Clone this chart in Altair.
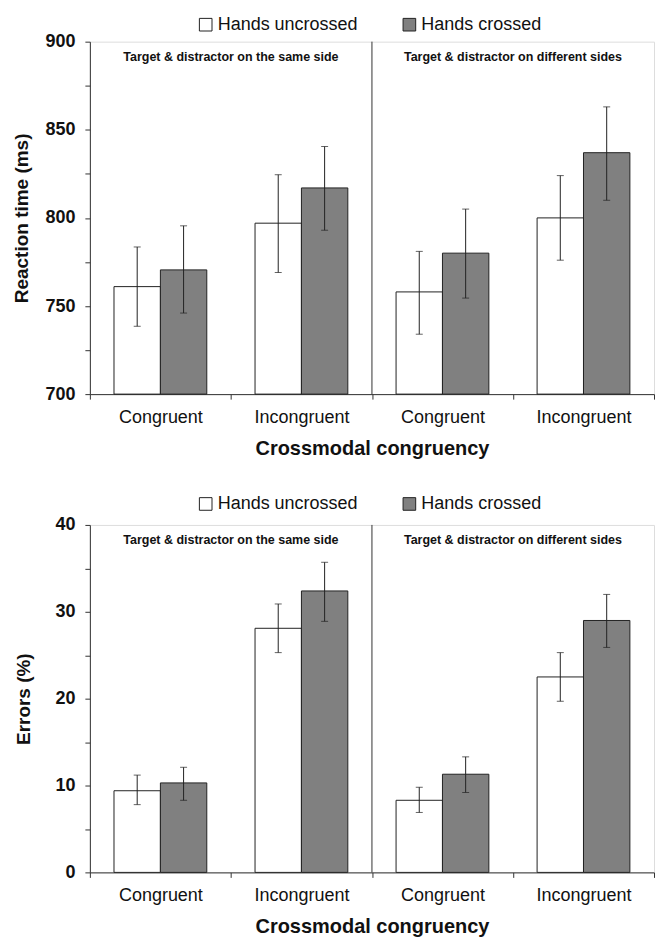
import altair as alt
import pandas as pd

# ---------------- data ----------------
categories = ["Congruent", "Incongruent", "Congruent", "Incongruent"]
sides = ["same", "same", "different", "different"]
conditions = ["Hands uncrossed", "Hands crossed"]
panel_titles = ["Target & distractor on the same side",
                "Target & distractor on different sides"]

rt_uncrossed = [761, 797, 758, 800]
rt_crossed = [770.5, 817, 780, 837]
rt_uncrossed_lo = [738.5, 769, 734, 776]
rt_uncrossed_hi = [783.5, 824.5, 781, 824]
rt_crossed_lo = [746, 793, 754.5, 810]
rt_crossed_hi = [795.5, 840.5, 805, 863]

err_uncrossed = [9.4, 28.1, 8.3, 22.5]
err_crossed = [10.3, 32.4, 11.3, 29.0]
err_uncrossed_lo = [7.8, 25.3, 6.9, 19.7]
err_uncrossed_hi = [11.2, 30.9, 9.8, 25.3]
err_crossed_lo = [8.3, 28.9, 9.2, 25.9]
err_crossed_hi = [12.1, 35.7, 13.3, 32.0]

keys = [f"{s}|{c}" for s, c in zip(sides, categories)]

FONT = "Liberation Sans, Arial, sans-serif"
LINE = "#333333"


def make_df(unc, cr, unc_lo, unc_hi, cr_lo, cr_hi):
    rows = []
    for i, k in enumerate(keys):
        rows.append({"key": k, "condition": conditions[0], "value": unc[i],
                     "lo": unc_lo[i], "hi": unc_hi[i]})
        rows.append({"key": k, "condition": conditions[1], "value": cr[i],
                     "lo": cr_lo[i], "hi": cr_hi[i]})
    return pd.DataFrame(rows)


def panel(df, ytitle, ydomain, ystep, label_every, height, legend_y, title_pad):
    W = 565
    xscale = alt.Scale(domain=keys, paddingInner=0, paddingOuter=0)
    xaxis = alt.Axis(title="Crossmodal congruency", tickBand="extent",
                     labelExpr="split(datum.label, '|')[1]",
                     labelAngle=0, labelFontSize=18, labelPadding=9,
                     labelFont=FONT, labelColor="#111",
                     titleFont=FONT, titleFontSize=20, titleFontWeight="bold",
                     titlePadding=12, titleColor="#111",
                     tickSize=5, tickColor=LINE, domainColor=LINE)
    x = alt.X("key:N", sort=keys, scale=xscale, axis=xaxis)
    xo = alt.XOffset("condition:N", sort=conditions,
                     scale=alt.Scale(domain=conditions, paddingInner=0, paddingOuter=0.52))
    yvals = list(range(ydomain[0], ydomain[1] + 1, ystep))
    yscale = alt.Scale(domain=ydomain, nice=False, zero=False)
    yaxis = alt.Axis(title=ytitle, values=yvals,
                     labelExpr=f"datum.value % {label_every} == 0 ? datum.label : ''",
                     labelFont=FONT, labelFontSize=18, labelFontWeight="bold",
                     labelColor="#111", labelPadding=10,
                     titleFont=FONT, titleFontSize=19, titleFontWeight="bold",
                     titleColor="#111", titlePadding=title_pad,
                     tickSize=5, tickColor=LINE, domainColor=LINE, grid=False)

    def Y(field):
        return alt.Y(f"{field}:Q", scale=yscale, axis=yaxis)

    color = alt.Color("condition:N", sort=conditions,
                      scale=alt.Scale(domain=conditions, range=["#ffffff", "#808080"]),
                      legend=alt.Legend(title=None, orient="none", direction="horizontal",
                                        legendX=107, legendY=legend_y,
                                        symbolType="square", symbolSize=160,
                                        symbolStrokeColor="#222", symbolStrokeWidth=1,
                                        symbolOpacity=1,
                                        labelFont=FONT, labelFontSize=18, labelColor="#111",
                                        labelOffset=3, columnPadding=42, padding=0))

    base = alt.Chart(df)
    bars = base.mark_bar(stroke="#222", strokeWidth=1).encode(
        x=x, xOffset=xo, y=Y("value"), y2=alt.datum(ydomain[0]), color=color)
    err = base.mark_rule(color="#222", strokeWidth=1).encode(
        x=x, xOffset=xo, y=Y("lo"), y2="hi:Q")
    cap_lo = base.mark_tick(size=7, thickness=1, color="#222", orient="horizontal").encode(
        x=x, xOffset=xo, y=Y("lo"))
    cap_hi = base.mark_tick(size=7, thickness=1, color="#222", orient="horizontal").encode(
        x=x, xOffset=xo, y=Y("hi"))

    div_df = pd.DataFrame({"key": [keys[2]]})
    divider = alt.Chart(div_df).mark_rule(color=LINE, strokeWidth=1).encode(
        x=alt.X("key:N", sort=keys, scale=xscale, axis=xaxis, bandPosition=0),
        y=alt.value(0), y2=alt.value(height))

    t_df = pd.DataFrame({"key": [keys[1], keys[3]], "label": panel_titles})
    titles = alt.Chart(t_df).mark_text(font=FONT, fontSize=12.5, fontWeight="bold",
                                       color="#111", baseline="middle").encode(
        x=alt.X("key:N", sort=keys, scale=xscale, axis=xaxis, bandPosition=0),
        y=alt.value(15), text="label:N")

    return alt.layer(bars, err, cap_lo, cap_hi, divider, titles).properties(
        width=W, height=height)


df_rt = make_df(rt_uncrossed, rt_crossed, rt_uncrossed_lo, rt_uncrossed_hi,
                rt_crossed_lo, rt_crossed_hi)
df_err = make_df(err_uncrossed, err_crossed, err_uncrossed_lo, err_uncrossed_hi,
                 err_crossed_lo, err_crossed_hi)

top = panel(df_rt, "Reaction time (ms)", [700, 900], 25, 50, 353, -26, 13)
bottom = panel(df_err, "Errors (%)", [0, 40], 5, 10, 348, -30, 21)

chart = alt.vconcat(top, bottom, spacing=35).resolve_scale(
    x="independent", y="independent", color="independent", xOffset="independent"
).resolve_legend(color="independent").resolve_axis(x="independent", y="independent").properties(
    padding={"left": 4, "top": 6, "right": 5, "bottom": 5}
).configure_view(stroke=LINE, strokeWidth=1).configure(background="white")

chart.save("out.html", embed_options={"renderer": "svg", "actions": False})
